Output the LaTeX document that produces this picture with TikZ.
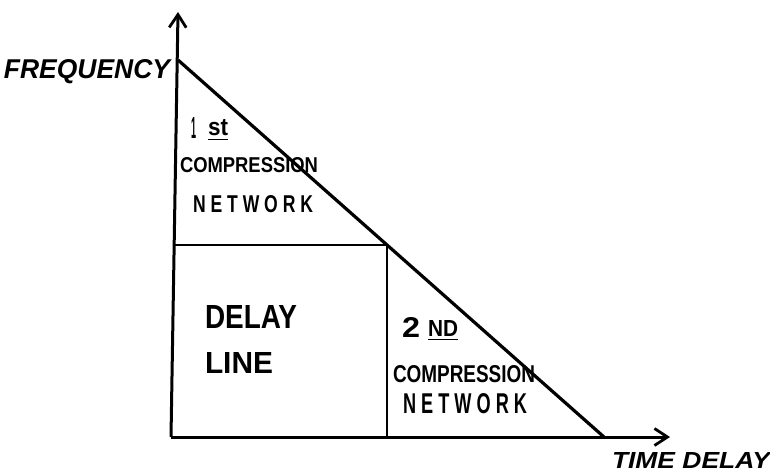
\documentclass[tikz,border=0pt]{standalone}
\usepackage{fontspec}
\usepackage{graphicx}
\setmainfont{Liberation Sans}
\usetikzlibrary{arrows.meta}
\newcommand{\fitlbl}[3]{\resizebox{#1pt}{#2pt}{\bfseries #3}}
\tikzset{
  axis/.style={line width=3pt, -{Straight Barb[length=13pt,width=17pt,line width=2.8pt]}},
  edge/.style={line width=3.2pt},
  inner/.style={line width=2.6pt},
  lbl/.style={inner sep=0pt, outer sep=0pt, anchor=north west},
}
\begin{document}
\begin{tikzpicture}[x=1pt,y=-1pt]
\useasboundingbox (0,0) rectangle (770,473);
% key points
\coordinate (O) at (171,437);
\coordinate (ytip) at (178,12);
\coordinate (xtip) at (670,437);
\coordinate (top) at (178,60);
\coordinate (bot) at (604,437);
\coordinate (mid) at (387,245);
\coordinate (midL) at (173,245);
\coordinate (midB) at (387,437);
% axes
\draw[axis] (O) -- (ytip);
\draw[axis] (O) -- (xtip);
% diagonal
\draw[edge] (top) -- (bot);
% inner lines
\draw[inner] (midL) -- (mid);
\draw[inner] (mid) -- (midB);
% labels
\node[lbl] (freq) at (4,60) {\fitlbl{166}{19}{\itshape FREQUENCY}};
\node[lbl] (time) at (612,452) {\fitlbl{158}{16}{\itshape TIME DELAY}};
\node[lbl] (one) at (191,117) {\fitlbl{5}{21}{1}};
\node[lbl] (st) at (208,120) {\fitlbl{20}{16}{\underline{st}}};
\node[lbl] (comp1) at (180,158) {\fitlbl{138}{15}{COMPRESSION}};
\node[lbl] (net1) at (193,195) {\fitlbl{120}{17}{N E T W O R K}};
\node[lbl] (delay) at (205,305) {\fitlbl{92}{23}{DELAY}};
\node[lbl] (line) at (205,352) {\fitlbl{68}{21}{LINE}};
\node[lbl] (two) at (402,317) {\fitlbl{18}{20}{2}};
\node[lbl] (nd) at (428,320) {\fitlbl{30}{16}{\underline{ND}}};
\node[lbl] (comp2) at (393,365) {\fitlbl{142}{17}{COMPRESSION}};
\node[lbl] (net2) at (403,393) {\fitlbl{124}{20}{N E T W O R K}};
\end{tikzpicture}
\end{document}
